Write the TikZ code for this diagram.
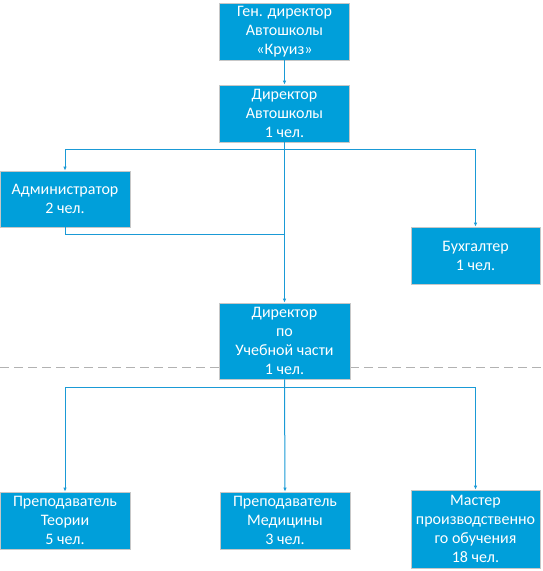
\documentclass[tikz,border=0pt]{standalone}
\usepackage{fontspec}
\setmainfont{Carlito}
\usetikzlibrary{arrows.meta}
\definecolor{boxblue}{HTML}{009FDA}
\definecolor{lineblue}{HTML}{1A9AD6}
\begin{document}
\begin{tikzpicture}[x=1pt,y=-1pt,
  orgbox/.style={fill=boxblue,draw=black!22,line width=0.8pt,text=white,align=center,
    font=\fontsize{16}{19}\selectfont,inner sep=0pt,minimum width=130pt,minimum height=57pt},
  conn/.style={draw=lineblue,line width=1pt},
  arr/.style={conn,-{Latex[length=4pt,width=3.5pt]}}]
\useasboundingbox (0,0) rectangle (542,571);
\fill[white] (0,0) rectangle (542,571);
\draw[black!30,line width=1pt,dash pattern=on 9pt off 5pt] (0,367) -- (542,367);
\node[orgbox] (gd) at (284.5,31.5) {Ген. директор\\Автошколы\\«Круиз»};
\node[orgbox] (da) at (284.5,113.5) {Директор\\Автошколы\\1 чел.};
\node[orgbox,minimum height=56pt] (adm) at (65,199) {Администратор\\2 чел.};
\node[orgbox,minimum width=129pt] (buh) at (475.5,255.5) {Бухгалтер\\1 чел.};
\node[orgbox,minimum width=131pt,minimum height=76pt] (duch) at (284.5,341) {Директор\\по\\Учебной части\\1 чел.};
\node[orgbox] (pt) at (65,520.5) {Преподаватель\\Теории\\5 чел.};
\node[orgbox] (pm) at (285,520.5) {Преподаватель\\Медицины\\3 чел.};
\node[orgbox,minimum width=129pt,minimum height=78pt] (mpo) at (475.5,529) {Мастер\\производственно\\го обучения\\18 чел.};
\coordinate (j1) at (284.5,149);
\coordinate (j2) at (284.5,234);
\coordinate (j3) at (284.5,387);
\draw[arr] (gd.south) -- (da.north);
\draw[arr] (da.south) -- (duch.north);
\draw[arr] (j1) -| (adm.north);
\draw[arr] (j1) -| (buh.north);
\draw[conn] (adm.south) |- (j2);
\draw[arr] (duch.south) -- (pm.north);
\draw[arr] (j3) -| (pt.north);
\draw[arr] (j3) -| (mpo.north);
\end{tikzpicture}
\end{document}
